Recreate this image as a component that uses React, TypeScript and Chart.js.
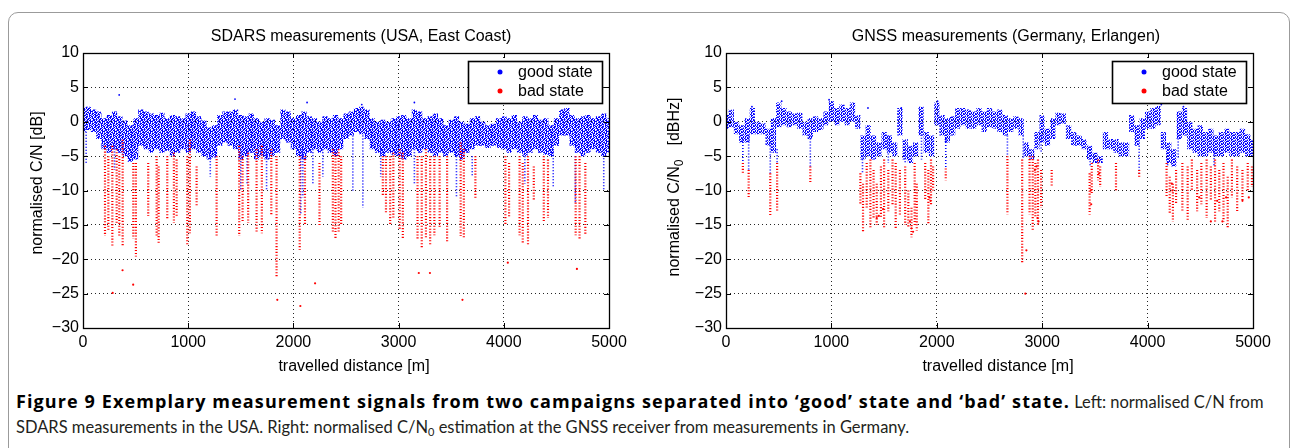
import React, { useEffect, useRef } from 'react';
import { Chart, registerables } from 'chart.js';

Chart.register(...registerables);

// ---------------------------------------------------------------------------
// Axis values shared by both panels
// ---------------------------------------------------------------------------
const distanceTicks = [0, 1000, 2000, 3000, 4000, 5000];
const levelTicks = [-30, -25, -20, -15, -10, -5, 0, 5, 10];

// Travelled distance of the 50 m bins used for the "good state" envelopes [m]
const binDistances = [
  0, 50, 100, 150, 200, 250, 300, 350, 400, 450,
  500, 550, 600, 650, 700, 750, 800, 850, 900, 950,
  1000, 1050, 1100, 1150, 1200, 1250, 1300, 1350, 1400, 1450,
  1500, 1550, 1600, 1650, 1700, 1750, 1800, 1850, 1900, 1950,
  2000, 2050, 2100, 2150, 2200, 2250, 2300, 2350, 2400, 2450,
  2500, 2550, 2600, 2650, 2700, 2750, 2800, 2850, 2900, 2950,
  3000, 3050, 3100, 3150, 3200, 3250, 3300, 3350, 3400, 3450,
  3500, 3550, 3600, 3650, 3700, 3750, 3800, 3850, 3900, 3950,
  4000, 4050, 4100, 4150, 4200, 4250, 4300, 4350, 4400, 4450,
  4500, 4550, 4600, 4650, 4700, 4750, 4800, 4850, 4900, 4950,
  5000,
];

// ---------------------------------------------------------------------------
// SDARS measurements (USA, East Coast) – normalised C/N [dB]
// ---------------------------------------------------------------------------
// upper / lower edge of the dense "good state" cloud per bin
const sdarsGoodHi = [
  2.0, 2.2, 1.8, 1.5, 0.5, 1.0, 1.5, 0.8, 0.2, -0.5,
  0.5, 1.8, 1.5, 1.2, 1.0, 1.3, 0.5, 1.0, 0.8, 0.5,
  1.2, 1.5, 0.8, 0.2, -0.8, -0.5, 1.0, 1.5, 1.5, 1.8,
  1.0, 0.8, 1.2, 0.5, 0.0, 0.5, 0.3, -0.5, 1.8, 1.5,
  0.5, 1.0, 1.5, 0.8, 0.5, 0.0, 0.8, 0.5, 1.0, 0.5,
  1.2, 1.5, 2.0, 2.2, 1.8, 0.5, 0.0, 0.3, 0.0, 0.5,
  0.8, 1.0, 0.5, 1.8, 1.5, 0.5, 0.8, 1.2, 0.5, -0.5,
  0.3, 0.8, 0.0, -0.3, 0.5, 0.8, 0.0, -0.5, -0.3, 0.5,
  0.8, 0.5, 1.0, 0.0, 0.8, 0.5, 1.0, 0.3, 0.5, -0.5,
  0.5, 1.8, 2.0, 1.0, 0.5, 0.8, 1.0, 0.5, 0.8, 1.2,
  0.5,
];
const sdarsGoodLo = [
  -1.5, -1.2, -1.5, -2.5, -4.0, -4.5, -4.0, -4.5, -5.0, -5.8,
  -5.5, -3.5, -4.0, -4.5, -4.0, -4.5, -4.2, -5.0, -4.5, -4.0,
  -4.5, -4.0, -4.5, -5.0, -5.5, -5.2, -3.5, -3.0, -3.5, -4.0,
  -5.5, -5.0, -4.5, -5.5, -5.0, -5.5, -5.0, -4.5, -2.5, -3.0,
  -4.0, -5.0, -5.5, -4.5, -4.0, -4.5, -4.0, -4.5, -5.0, -4.0,
  -2.5, -2.0, -1.5, -1.8, -2.5, -4.0, -4.5, -5.0, -4.5, -4.8,
  -5.0, -5.5, -5.0, -4.0, -4.5, -4.0, -4.5, -5.0, -4.5, -5.0,
  -4.5, -5.0, -5.5, -4.5, -4.0, -3.5, -3.5, -3.8, -3.5, -3.8,
  -4.0, -4.5, -4.0, -4.5, -5.0, -4.5, -4.0, -4.5, -4.8, -5.0,
  -3.5, -2.0, -2.0, -3.5, -4.5, -5.0, -4.5, -4.0, -4.5, -5.0,
  -4.5,
];
// "good state" samples that drop below the cloud
const sdarsGoodSpikeX = [30, 300, 1210, 1500, 1560, 1745, 2070, 2090, 2185, 2280, 2565, 2660, 2830, 3150, 3550, 3700, 4200, 4470, 4680, 4950];
const sdarsGoodSpikeTop = [-1, -3, -4, -4, -4, -4, -4, -4, -4, -4, -2, -2, -4, -4, -5, -5, -5, -4, -5, -4];
const sdarsGoodSpikeBottom = [-6, -7, -8, -10, -9, -10, -13.5, -11, -9, -8, -10, -12.5, -8, -9, -11, -8, -9, -9.5, -12, -10];
// isolated "good state" samples above the cloud
const sdarsGoodDotX = [344, 1445, 2130, 2650, 3150, 4250];
const sdarsGoodDotY = [3.9, 3.3, 2.8, 2.5, 2.8, 2.7];
// "bad state" fades
const sdarsBadX = [
  209, 241, 279, 320, 345, 377, 478, 503, 620, 700, 719, 801, 864, 890, 991, 1016, 1080, 1270,
  1485, 1517, 1570, 1650, 1700, 1790, 1840, 2060, 2110, 2248, 2375, 2400, 2430, 2454, 2850, 2880,
  2920, 2950, 3010, 3040, 3180, 3220, 3260, 3300, 3340, 3390, 3461, 3590, 3620, 3730, 4015, 4050,
  4150, 4180, 4230, 4285, 4380, 4420, 4683, 4720, 4775,
];
const sdarsBadTop = [
  -3.5, -5, -3.5, -4, -5, -2.6, -6, -6, -6, -5, -6.5, -5, -4.5, -5.5, -5, -2.6, -6.5, -5,
  -3.5, -5, -4.5, -4, -3.5, -4, -5, -5, -5, -6, -4, -4.5, -4, -5, -5, -5,
  -5, -4.5, -4, -4.5, -5, -5, -4, -5, -5, -5, -5, -3, -4, -5, -5, -6,
  -5, -6, -5, -6.5, -5, -5.5, -5, -5, -6,
];
const sdarsBadBottom = [
  -16.6, -15.7, -18, -14.7, -16.6, -18, -17, -19.6, -13.7, -16.6, -17.6, -14.2, -14.7, -13.7, -18, -16.2, -12.3, -16.6,
  -16.6, -14.7, -14.7, -16.2, -16.2, -13.7, -22.5, -18.6, -15, -15.2, -16, -17, -16, -15, -10.8, -13.3,
  -15, -14, -15.7, -17, -17, -18.5, -17, -18, -16.5, -15.5, -17.6, -16.6, -17, -11.3, -15, -14,
  -16.5, -17.6, -18, -11.3, -14.7, -14, -16.5, -17, -16.5,
];
// isolated deep "bad state" samples
const sdarsBadDotX = [282, 376, 477, 1847, 2066, 2206, 3192, 3298, 3607, 4038, 4695];
const sdarsBadDotY = [-24.9, -21.6, -23.7, -25.9, -26.8, -23.5, -22.0, -22.0, -25.9, -20.5, -21.4];

// ---------------------------------------------------------------------------
// GNSS measurements (Germany, Erlangen) – normalised C/N0 [dBHz]
// ---------------------------------------------------------------------------
const gnssGoodHi = [
  1.0, 1.8, 0.0, -0.5, 0.5, 2.0, 0.0, -0.2, -1.0, 0.5,
  2.8, 2.0, 1.5, 1.2, 1.3, 0.0, 0.5, 0.8, 0.5, 1.5,
  3.0, 2.0, 2.5, 2.0, 2.8, 1.0, -2.0, -0.5, -2.0, -3.0,
  -1.5, -2.0, -3.0, 2.0, -2.5, -3.5, -3.0, 2.2, -1.5, -2.0,
  2.8, 1.0, 0.5, 0.8, 2.0, 2.0, 1.8, 1.5, 2.0, 1.5,
  2.0, 1.5, 1.8, 1.0, 0.5, 0.8, 0.5, -3.0, -4.0, -1.5,
  1.0, -1.0, 0.5, 1.3, 1.2, -0.5, -1.5, -2.0, -2.5, -3.5,
  -4.5, -5.0, -1.5, -2.5, -2.5, -3.0, -3.0, 1.0, -0.5, 0.5,
  1.5, 2.0, 2.3, -1.5, -3.0, -4.0, 1.5, 2.0, 0.0, -1.0,
  -0.5, -1.5, -1.0, -2.0, -1.5, -1.0, -1.5, -1.5, -1.0, -1.8,
  -2.5,
];
const gnssGoodLo = [
  -1.0, -0.8, -1.8, -3.0, -3.0, -1.8, -1.8, -1.8, -3.5, -4.5,
  -0.8, -0.5, -0.8, -0.5, -1.0, -2.0, -2.5, -1.5, -1.2, -0.5,
  0.0, -0.5, 0.0, -0.5, 0.0, -1.0, -5.5, -5.0, -5.5, -5.0,
  -4.0, -4.5, -5.0, -2.0, -5.5, -6.0, -5.0, -2.0, -4.5, -5.0,
  -0.5, -2.0, -3.0, -2.0, -1.0, -0.5, -1.0, -1.0, -0.5, -1.5,
  -0.8, -1.0, -1.5, -2.0, -1.5, -1.0, -2.0, -5.0, -5.5, -4.0,
  -3.0, -3.5, -2.5, -0.5, -0.3, -2.5, -3.5, -3.5, -4.0, -5.5,
  -6.0, -6.0, -4.0, -4.0, -4.5, -5.0, -5.0, -1.5, -3.5, -2.5,
  -1.0, -1.0, -0.5, -4.0, -6.0, -6.5, -2.5, -2.0, -4.0, -4.5,
  -5.0, -5.0, -4.5, -5.0, -5.0, -4.5, -5.0, -5.0, -4.5, -5.0,
  -5.0,
];
const gnssGoodSpikeX = [160, 215, 420, 485, 800, 1295, 1540, 1700, 1855, 2085, 2670, 2820, 2990, 3455, 3920, 4190, 4290, 4630];
const gnssGoodSpikeTop = [-2.5, -2, -3, -4, -2, -5, -2, -4, -1, -2.5, -2, -2, -2, -4, -3.5, -4, -2, -4];
const gnssGoodSpikeBottom = [-6.5, -7, -7.5, -6, -6.5, -7.5, -6, -6, -5.5, -6.8, -5, -5.5, -4.5, -6.5, -7.5, -6.5, -5.5, -6.5];
const gnssGoodDotX = [246, 528, 978, 1347, 1663, 2007, 4130, 4340];
const gnssGoodDotY = [2.2, 3.0, 3.2, 2.0, 2.0, 3.0, 2.5, 2.2];
const gnssBadX = [
  160, 215, 420, 485, 800, 1275, 1300, 1335, 1370, 1400, 1430, 1470, 1500, 1540, 1580, 1610,
  1650, 1700, 1730, 1760, 1790, 1810, 1890, 1920, 1945, 1965, 2085, 2670, 2810, 2880, 2910, 2935,
  2960, 2990, 3090, 3450, 3470, 3530, 3550, 3700, 3920, 4180, 4210, 4240, 4270, 4330, 4380, 4420,
  4470, 4510, 4560, 4600, 4640, 4680, 4720, 4760, 4800, 4850, 4900, 4950, 4990,
];
const gnssBadTop = [
  -6.0, -7.0, -7.5, -6.0, -6.5, -7.5, -9.0, -6.0, -5.5, -7.0, -9.0, -6.5, -5.5, -7.0, -5.5, -6.0,
  -7.0, -6.5, -10.0, -12.5, -6.0, -9.0, -6.0, -7.0, -5.5, -6.5, -6.8, -5.0, -5.5, -5.0, -5.0, -6.0,
  -5.5, -7.0, -7.0, -7.5, -6.0, -5.5, -6.5, -6.0, -7.0, -6.0, -8.0, -9.0, -7.0, -6.0, -6.5, -5.5,
  -7.0, -6.0, -5.5, -6.5, -5.5, -7.0, -6.0, -8.0, -5.5, -6.5, -7.0, -6.0, -6.5,
];
const gnssBadBottom = [
  -7.5, -11.0, -13.7, -13.0, -9.0, -12.0, -16.0, -12.5, -15.5, -14.0, -15.0, -14.0, -15.5, -13.0, -12.0, -15.5,
  -13.5, -15.0, -15.5, -16.8, -15.0, -15.8, -11.5, -14.8, -12.0, -10.0, -8.5, -13.5, -20.5, -13.5, -15.8, -14.0,
  -15.0, -12.5, -9.5, -13.5, -10.5, -8.5, -9.5, -10.0, -8.0, -11.0, -13.5, -14.5, -12.0, -13.0, -14.5, -10.0,
  -13.0, -12.0, -14.0, -11.5, -14.5, -13.0, -14.5, -15.5, -11.0, -13.0, -11.5, -10.0, -9.5,
];
// clusters of repeated "bad state" readings
const gnssBadDotX = [1430, 1450, 1490, 1745, 1760, 1775, 1930, 1940, 2840, 2850, 2930, 2945, 2955, 2965, 3460, 3465, 3540, 4230, 4235, 4490, 4600, 4660, 4710, 4745, 4900, 4960];
const gnssBadDotY = [-14.0, -13.7, -12.7, -14.5, -15.5, -16.0, -11.0, -11.5, -25.0, -18.7, -7.0, -6.5, -14.0, -14.5, -10.0, -12.0, -7.5, -9.0, -10.0, -11.0, -14.5, -11.5, -14.5, -11.0, -11.5, -11.0];

// ---------------------------------------------------------------------------
// Drawing helpers
// ---------------------------------------------------------------------------
const FONT = '"Liberation Sans", Arial, Helvetica, sans-serif';
const BLUE = 'rgb(0,0,255)';
const RED = 'rgb(255,0,0)';

// stipple tiles that give the filled envelopes a scattered-sample texture
// ('b' = full blue sample, 'l' = faint sample, '.' = empty)
const DENSE_TILE = [
  'b.lb.bb.lbb.',
  '.bb.l.bbb.lb',
  'bl.bb.b.l.bb',
  'b.b.lbb.bb.l',
  '.lbb.b.lb.bb',
  'bb.l.bbl.b.b',
  'l.bb.b.bb.lb',
  '.bbl.lb.b.bb',
  'b.b.bb.lbb..',
  'bl.bb.b..bbl',
];
const SPARSE_TILE = [
  'b.bl.b',
  '.l.bb.',
  'lb.b.l',
  'b.l.bb',
  '.b.bl.',
  'lb.b.b',
];

const makeStipple = (ctx: CanvasRenderingContext2D, rows: string[]) => {
  const tile = document.createElement('canvas');
  tile.width = rows[0].length;
  tile.height = rows.length;
  const g = tile.getContext('2d')!;
  rows.forEach((row, y) =>
    row.split('').forEach((ch, x) => {
      if (ch === '.') return;
      g.fillStyle = ch === 'b' ? 'rgb(0,0,255)' : 'rgb(125,125,255)';
      g.fillRect(x, y, 1, 1);
    })
  );
  return ctx.createPattern(tile, 'repeat')!;
};

const toPoints = (xs: number[], ys: number[]) => xs.map((x, i) => ({ x, y: ys[i] }));
const toStreaks = (xs: number[], tops: number[], bottoms: number[]) =>
  xs.flatMap((x, i) => [
    { x, y: tops[i] },
    { x, y: bottoms[i] },
    { x, y: null as number | null },
  ]);

const fmtLevel = (v: number) => (v < 0 ? '\u2212' + Math.abs(v) : String(v));

type PanelSpec = {
  title: string;
  titleX: number;
  xTitleX: number;
  yTitleX: number;
  yTitleY: number;
  yTitleMain: string;
  yTitleSub: string;
  yTitleUnit: string;
  axisWidth: number;
  padRight: number;
  tile: string[];
  goodHi: number[];
  goodLo: number[];
  spikeX: number[];
  spikeTop: number[];
  spikeBottom: number[];
  goodDotX: number[];
  goodDotY: number[];
  badX: number[];
  badTop: number[];
  badBottom: number[];
  badDotX: number[];
  badDotY: number[];
};

const decorPlugin = (spec: PanelSpec) => ({
  id: 'panelDecor',
  afterDraw(chart: Chart) {
    const { ctx, chartArea } = chart;
    const { left, right, top, bottom } = chartArea;
    const xs = chart.scales.x;
    const ys = chart.scales.y;
    ctx.save();

    // inward tick marks on all four sides
    ctx.strokeStyle = '#000';
    ctx.lineWidth = 1;
    ctx.beginPath();
    distanceTicks.forEach((v) => {
      const px = Math.round(xs.getPixelForValue(v)) + 0.5;
      ctx.moveTo(px, bottom);
      ctx.lineTo(px, bottom - 5);
      ctx.moveTo(px, top);
      ctx.lineTo(px, top + 5);
    });
    levelTicks.forEach((v) => {
      const py = Math.round(ys.getPixelForValue(v)) + 0.5;
      ctx.moveTo(left, py);
      ctx.lineTo(left + 5, py);
      ctx.moveTo(right, py);
      ctx.lineTo(right - 5, py);
    });
    ctx.stroke();

    // axes box
    ctx.lineWidth = 1.3;
    ctx.strokeRect(Math.round(left) + 0.5, Math.round(top) + 0.5, Math.round(right - left), Math.round(bottom - top));

    // legend
    const bw = 134;
    const bh = 42;
    const bx = Math.round(right) - 7 - bw;
    const by = Math.round(top) + 8;
    ctx.fillStyle = '#fff';
    ctx.fillRect(bx, by, bw, bh);
    ctx.lineWidth = 1.6;
    ctx.strokeRect(bx + 0.5, by + 0.5, bw, bh);
    ctx.font = `16px ${FONT}`;
    ctx.textBaseline = 'middle';
    ctx.textAlign = 'left';
    [
      { label: 'good state', color: BLUE, dy: 11 },
      { label: 'bad state', color: RED, dy: 30 },
    ].forEach(({ label, color, dy }) => {
      ctx.fillStyle = color;
      ctx.beginPath();
      ctx.arc(bx + 32, by + dy, 2.5, 0, Math.PI * 2);
      ctx.fill();
      ctx.fillStyle = '#000';
      ctx.fillText(label, bx + 50, by + dy + 1);
    });

    // panel title and x-axis title
    ctx.textAlign = 'center';
    ctx.fillText(spec.title, spec.titleX, 37);
    ctx.fillText('travelled distance [m]', spec.xTitleX, 367);

    // rotated y-axis title, optional subscript
    ctx.translate(spec.yTitleX, spec.yTitleY);
    ctx.rotate(-Math.PI / 2);
    ctx.textAlign = 'left';
    const wMain = ctx.measureText(spec.yTitleMain).width;
    ctx.font = `12px ${FONT}`;
    const wSub = spec.yTitleSub ? ctx.measureText(spec.yTitleSub).width : 0;
    ctx.font = `16px ${FONT}`;
    const gap = spec.yTitleSub ? 14 : ctx.measureText(' ').width;
    const wUnit = ctx.measureText(spec.yTitleUnit).width;
    let cx = -(wMain + wSub + gap + wUnit) / 2;
    ctx.fillText(spec.yTitleMain, cx, 0);
    cx += wMain;
    if (spec.yTitleSub) {
      ctx.font = `12px ${FONT}`;
      ctx.fillText(spec.yTitleSub, cx, 5);
      ctx.font = `16px ${FONT}`;
      cx += wSub;
    }
    cx += gap;
    ctx.fillText(spec.yTitleUnit, cx, 0);
    ctx.restore();
  },
});

function Panel({ spec, left }: { spec: PanelSpec; left: number }) {
  const ref = useRef<HTMLCanvasElement>(null);
  useEffect(() => {
    const canvas = ref.current!;
    const ctx = canvas.getContext('2d')!;
    const stipple = makeStipple(ctx, spec.tile);
    const lineBase = {
      type: 'line' as const,
      pointRadius: 0,
      spanGaps: false,
      tension: 0,
    };
    const chart = new Chart(canvas, {
      type: 'scatter',
      data: {
        datasets: [
          {
            ...lineBase,
            label: 'good state envelope',
            data: toPoints(binDistances, spec.goodHi),
            stepped: 'middle',
            borderWidth: 0,
            borderColor: 'rgba(0,0,0,0)',
            backgroundColor: stipple,
            fill: '+1',
            order: 5,
          },
          {
            ...lineBase,
            label: 'good state lower',
            data: toPoints(binDistances, spec.goodLo),
            stepped: 'middle',
            borderWidth: 0,
            borderColor: 'rgba(0,0,0,0)',
            fill: false,
            order: 5,
          },
          {
            ...lineBase,
            label: 'good state spikes',
            data: toStreaks(spec.spikeX, spec.spikeTop, spec.spikeBottom),
            borderColor: BLUE,
            borderWidth: 1.6,
            borderDash: [1, 2],
            fill: false,
            order: 4,
          },
          {
            label: 'good state outliers',
            data: toPoints(spec.goodDotX, spec.goodDotY),
            pointRadius: 0.9,
            pointBorderWidth: 0,
            backgroundColor: BLUE,
            order: 4,
          },
          {
            ...lineBase,
            label: 'bad state',
            data: toStreaks(spec.badX, spec.badTop, spec.badBottom),
            borderColor: RED,
            borderWidth: 2.2,
            borderDash: [1.1, 1.8],
            fill: false,
            order: 2,
          },
          {
            label: 'bad state outliers',
            data: toPoints(spec.badDotX, spec.badDotY),
            pointRadius: 1.1,
            pointBorderWidth: 0,
            backgroundColor: RED,
            order: 1,
          },
        ],
      } as any,
      options: {
        responsive: false,
        animation: false,
        events: [],
        layout: { padding: { left: 0, right: spec.padRight, top: 53, bottom: 0 } },
        plugins: {
          legend: { display: false },
          tooltip: { enabled: false },
          title: { display: false },
        },
        scales: {
          x: {
            type: 'linear',
            min: 0,
            max: 5000,
            afterBuildTicks: (s: any) => {
              s.ticks = distanceTicks.map((value) => ({ value }));
            },
            afterFit: (s: any) => {
              s.height = 52;
            },
            ticks: {
              font: { family: FONT, size: 16 },
              color: '#000',
              padding: 5,
              maxRotation: 0,
              autoSkip: false,
              callback: (v: any) => String(v),
            },
            grid: { color: 'rgba(0,0,0,0.85)', lineWidth: 1, drawTicks: false },
            border: { display: false, dash: [1, 3] },
          },
          y: {
            type: 'linear',
            min: -30,
            max: 10,
            afterBuildTicks: (s: any) => {
              s.ticks = levelTicks.map((value) => ({ value }));
            },
            afterFit: (s: any) => {
              s.width = spec.axisWidth;
            },
            ticks: {
              font: { family: FONT, size: 16 },
              color: '#000',
              padding: 4,
              autoSkip: false,
              callback: (v: any) => fmtLevel(Number(v)),
            },
            grid: { color: 'rgba(0,0,0,0.85)', lineWidth: 1, drawTicks: false },
            border: { display: false, dash: [1, 3] },
          },
        },
      } as any,
      plugins: [decorPlugin(spec)],
    });
    return () => chart.destroy();
  }, [spec]);
  return (
    <canvas
      ref={ref}
      width={646}
      height={380}
      style={{ position: 'absolute', left, top: 0, width: 646, height: 380, display: 'block' }}
    />
  );
}

const sdarsSpec: PanelSpec = {
  title: 'SDARS measurements (USA, East Coast)',
  titleX: 361,
  xTitleX: 354,
  yTitleX: 38,
  yTitleY: 183,
  yTitleMain: 'normalised C/N',
  yTitleSub: '',
  yTitleUnit: '[dB]',
  axisWidth: 83,
  padRight: 37,
  tile: DENSE_TILE,
  goodHi: sdarsGoodHi,
  goodLo: sdarsGoodLo,
  spikeX: sdarsGoodSpikeX,
  spikeTop: sdarsGoodSpikeTop,
  spikeBottom: sdarsGoodSpikeBottom,
  goodDotX: sdarsGoodDotX,
  goodDotY: sdarsGoodDotY,
  badX: sdarsBadX,
  badTop: sdarsBadTop,
  badBottom: sdarsBadBottom,
  badDotX: sdarsBadDotX,
  badDotY: sdarsBadDotY,
};

const gnssSpec: PanelSpec = {
  title: 'GNSS measurements (Germany, Erlangen)',
  titleX: 360,
  xTitleX: 352,
  yTitleX: 29,
  yTitleY: 187,
  yTitleMain: 'normalised C/N',
  yTitleSub: '0',
  yTitleUnit: '[dBHz]',
  axisWidth: 80,
  padRight: 39,
  tile: SPARSE_TILE,
  goodHi: gnssGoodHi,
  goodLo: gnssGoodLo,
  spikeX: gnssGoodSpikeX,
  spikeTop: gnssGoodSpikeTop,
  spikeBottom: gnssGoodSpikeBottom,
  goodDotX: gnssGoodDotX,
  goodDotY: gnssGoodDotY,
  badX: gnssBadX,
  badTop: gnssBadTop,
  badBottom: gnssBadBottom,
  badDotX: gnssBadDotX,
  badDotY: gnssBadDotY,
};

export default function App() {
  return (
    <div
      style={{
        position: 'absolute',
        left: 0,
        top: 0,
        width: 1292,
        height: 448,
        overflow: 'hidden',
        background: '#fff',
      }}
    >
      <div
        style={{
          position: 'absolute',
          left: 8,
          top: 12,
          width: 1282,
          height: 480,
          border: '1.6px solid #9b9b9b',
          borderRadius: 10,
          boxSizing: 'border-box',
        }}
      />
      <Panel spec={sdarsSpec} left={0} />
      <Panel spec={gnssSpec} left={646} />
      <div
        style={{
          position: 'absolute',
          left: 16,
          top: 389,
          fontFamily: 'Lato, "Open Sans", sans-serif',
          fontSize: 16.5,
          lineHeight: '25px',
          color: '#231f20',
          whiteSpace: 'nowrap',
        }}
      >
        <b
          style={{
            fontFamily: '"Open Sans", "Noto Sans", sans-serif',
            fontWeight: 700,
            fontSize: 18,
            letterSpacing: '1.1px',
            color: '#000',
          }}
        >
          Figure 9 Exemplary measurement signals from two campaigns separated into ‘good’ state and ‘bad’ state.
        </b>{' '}
        Left: normalised C/N from
        <br />
        SDARS measurements in the USA. Right: normalised C/N
        <sub style={{ fontSize: 11, verticalAlign: '-3px', lineHeight: 0 }}>0</sub> estimation at the GNSS receiver from
        measurements in Germany.
      </div>
    </div>
  );
}
